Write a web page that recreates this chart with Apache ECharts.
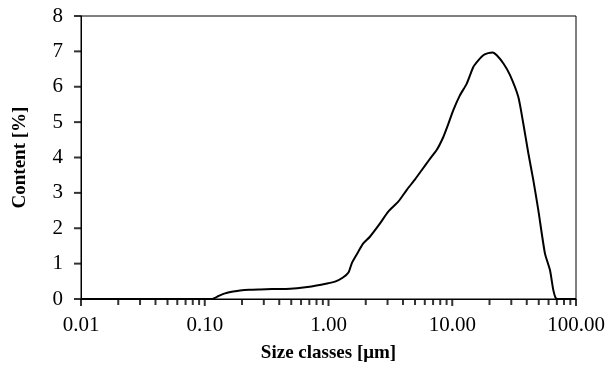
<!DOCTYPE html>
<html>
<head>
<meta charset="utf-8">
<script src="https://cdn.jsdelivr.net/npm/echarts@6/dist/echarts.min.js"></script>
<style>
  html, body { margin: 0; padding: 0; background: #fff; }
  #chart { width: 611px; height: 376px; }
</style>
</head>
<body>
<div id="chart"></div>
<script>
// size classes in µm and content in %
const sizes = [0.01, 0.02, 0.05, 0.1, 0.114, 0.13, 0.146, 0.17, 0.193, 0.23, 0.28, 0.35, 0.49, 0.65, 0.8, 0.95,
  1.13, 1.3, 1.45, 1.55, 1.75, 1.91, 2.16, 2.6, 3.04, 3.66, 4.28, 5.0, 5.66, 6.5, 7.48, 8.47, 9.3, 10.2,
  11.5, 13.1, 14.8, 16.3, 17.8, 19.5, 21.2, 22.9, 26, 29.3, 34.2, 37.5, 41.2, 45.2, 49.6, 56.1, 61.6,
  65.6, 68.9, 75, 100];
const content = [0, 0, 0, 0, 0, 0.09, 0.16, 0.21, 0.24, 0.26, 0.27, 0.28, 0.29, 0.33, 0.38, 0.43,
  0.49, 0.6, 0.75, 1.03, 1.35, 1.57, 1.76, 2.13, 2.47, 2.75, 3.08, 3.38, 3.64, 3.93, 4.21, 4.58, 4.95, 5.34,
  5.75, 6.09, 6.56, 6.75, 6.89, 6.95, 6.97, 6.89, 6.65, 6.33, 5.71, 4.96, 4.12, 3.36, 2.51, 1.29, 0.82,
  0.25, 0.02, 0, 0];

// tick positions (short axisTick does not show up here, so ticks are drawn as markers)
const xMajorTicks = [0.01, 0.1, 1, 10, 100];
const xMinorTicks = [];
[0.01, 0.1, 1, 10].forEach(d => {
  for (let k = 2; k <= 9; k++) xMinorTicks.push(+(d * k).toPrecision(3));
});
const yTicks = [0, 1, 2, 3, 4, 5, 6, 7, 8];

const serif = '"Liberation Serif", "Times New Roman", serif';
const chart = echarts.init(document.getElementById('chart'));

function tickSeries(data, size, offset) {
  return {
    type: 'scatter',
    data: data,
    symbol: 'rect',
    symbolSize: size,
    symbolOffset: offset,
    itemStyle: { color: '#000' },
    silent: true,
    clip: false,
    z: 10,
  };
}

chart.setOption({
  animation: false,
  backgroundColor: '#fff',
  grid: {
    left: 81, right: 35, top: 16, bottom: 77,
    show: true, borderColor: '#000', borderWidth: 1,
  },
  xAxis: {
    type: 'log',
    min: 0.01,
    max: 100,
    name: 'Size classes [\u03bcm]',
    nameLocation: 'middle',
    nameGap: 45,
    nameTextStyle: { fontFamily: serif, fontSize: 19, fontWeight: 'bold', color: '#000' },
    axisLine: { show: true, lineStyle: { color: '#000' } },
    axisTick: { show: false },
    axisLabel: {
      color: '#000', fontFamily: serif, fontSize: 21, margin: 16,
      formatter: v => v.toFixed(2),
    },
    splitLine: { show: false },
  },
  yAxis: {
    type: 'value',
    min: 0,
    max: 8,
    interval: 1,
    name: 'Content [%]',
    nameLocation: 'middle',
    nameGap: 51,
    nameTextStyle: { fontFamily: serif, fontSize: 19, fontWeight: 'bold', color: '#000' },
    axisLine: { show: true, lineStyle: { color: '#000' } },
    axisTick: { show: false },
    axisLabel: { color: '#000', fontFamily: serif, fontSize: 21, margin: 18 },
    splitLine: { show: false },
  },
  series: [
    {
      type: 'line',
      data: sizes.map((s, i) => [s, content[i]]),
      showSymbol: false,
      smooth: 0.2,
      lineStyle: { color: '#000', width: 2 },
      z: 3,
    },
    tickSeries(xMajorTicks.map(t => [t, 0]), [2, 7], [0, 3.5]),
    tickSeries(xMinorTicks.map(t => [t, 0]), [2, 6], [0, 3]),
    tickSeries(yTicks.map(v => [0.01, v]), [7, 2], [-3.5, 0]),
  ],
});
</script>
</body>
</html>
